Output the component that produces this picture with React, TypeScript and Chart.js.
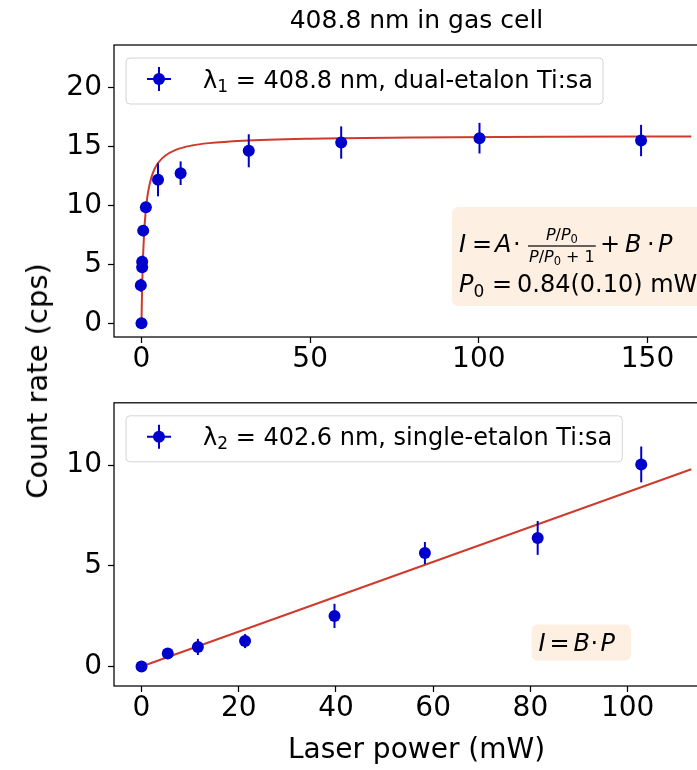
import React, { useEffect, useRef } from 'react';
import { Chart, registerables } from 'chart.js';

Chart.register(...registerables);

const FONT = "'DejaVu Sans', 'Liberation Sans', sans-serif";
const BLUE = '#0000cc';
const RED = '#cf3a2c';
const PEACH = '#fdefe2';

// ---- Top panel: 408.8 nm, dual-etalon Ti:sa ----
const power1 = [0, -0.2, 0.2, 0.2, 0.5, 1.3, 4.9, 11.6, 31.8, 59.2, 100.2, 148.1];
const rate1 = [0, 3.23, 4.75, 5.23, 7.86, 9.85, 12.17, 12.73, 14.63, 15.33, 15.7, 15.5];
const err1 = [0.1, 0.55, 0.45, 0.5, 0.45, 0.45, 1.4, 1.0, 1.4, 1.37, 1.3, 1.33];
const fitPower1 = [0, 0.1, 0.2, 0.35, 0.5, 0.75, 1, 1.5, 2, 3, 4, 5, 7, 10, 15, 20, 30, 50, 80, 120, 163];
const fitRate1 = [0, 1.69, 3.06, 4.68, 5.94, 7.51, 8.65, 10.2, 11.21, 12.44, 13.16, 13.63, 14.21, 14.69, 15.08, 15.28, 15.49, 15.66, 15.75, 15.81, 15.84];
const xTicks1 = [0, 50, 100, 150];
const yTicks1 = [0, 5, 10, 15, 20];

// ---- Bottom panel: 402.6 nm, single-etalon Ti:sa ----
const power2 = [0, 5.4, 11.6, 21.3, 39.7, 58.3, 81.5, 102.8];
const rate2 = [0, 0.64, 0.97, 1.26, 2.51, 5.63, 6.38, 10.03];
const err2 = [0.05, 0.15, 0.4, 0.35, 0.6, 0.55, 0.84, 0.89];
const fitPower2 = [0, 113.1];
const fitRate2 = [0, 9.79];
const xTicks2 = [0, 20, 40, 60, 80, 100];
const yTicks2 = [0, 5, 10];

const TITLE = '408.8 nm in gas cell';
const X_LABEL = 'Laser power (mW)';
const Y_LABEL = 'Count rate (cps)';
const LEGEND1 = { sub: '1', rest: ' = 408.8 nm, dual-etalon Ti:sa' };
const LEGEND2 = { sub: '2', rest: ' = 402.6 nm, single-etalon Ti:sa' };

const TICK_SIZE = 28;

const rm = (s: number) => `${s}px ${FONT}`;
const it = (s: number) => `italic ${s}px ${FONT}`;

function xAxis(min: number, max: number, ticks: number[], height: number, title?: any) {
  return {
    type: 'linear',
    min,
    max,
    afterBuildTicks: (s: any) => {
      s.ticks = ticks.map((v) => ({ value: v }));
    },
    afterFit: (s: any) => {
      s.height = height;
    },
    grid: { display: true, drawOnChartArea: false, drawTicks: true, tickLength: 6, tickColor: '#000', tickWidth: 1.25 },
    border: { display: false },
    ticks: { font: { family: FONT, size: TICK_SIZE }, color: '#000', padding: 0, maxRotation: 0, autoSkip: false, callback: (v: any) => String(v) },
    title: title || { display: false },
  };
}

function yAxis(min: number, max: number, ticks: number[]) {
  return {
    type: 'linear',
    min,
    max,
    afterBuildTicks: (s: any) => {
      s.ticks = ticks.map((v) => ({ value: v }));
    },
    afterFit: (s: any) => {
      s.width = 114;
    },
    grid: { display: true, drawOnChartArea: false, drawTicks: true, tickLength: 6, tickColor: '#000', tickWidth: 1.25 },
    border: { display: false },
    ticks: { font: { family: FONT, size: TICK_SIZE }, color: '#000', padding: 6, autoSkip: false, callback: (v: any) => String(v) },
  };
}

function drawLegend(chart: any, leg: { sub: string; rest: string }) {
  const { ctx, chartArea: ca } = chart;
  const left = ca.left + 12;
  const top = ca.top + 13;
  const h = 46;
  ctx.save();
  ctx.font = rm(24);
  const wL = ctx.measureText('λ').width;
  const wR = ctx.measureText(leg.rest).width;
  ctx.font = rm(17);
  const wS = ctx.measureText(leg.sub).width;
  const w = 77 + wL + wS + wR + 10;
  ctx.beginPath();
  ctx.roundRect(left, top, w, h, 4);
  ctx.fillStyle = 'rgba(255,255,255,0.8)';
  ctx.fill();
  ctx.strokeStyle = '#d4d4d4';
  ctx.lineWidth = 1;
  ctx.stroke();
  // handle
  const cx = left + 33;
  const cy = top + 21;
  ctx.strokeStyle = BLUE;
  ctx.lineWidth = 2;
  ctx.beginPath();
  ctx.moveTo(cx - 12, cy);
  ctx.lineTo(cx + 12, cy);
  ctx.moveTo(cx, cy - 12);
  ctx.lineTo(cx, cy + 12);
  ctx.stroke();
  ctx.beginPath();
  ctx.arc(cx, cy, 6, 0, Math.PI * 2);
  ctx.fillStyle = BLUE;
  ctx.fill();
  // text
  ctx.fillStyle = '#000';
  ctx.textAlign = 'left';
  ctx.textBaseline = 'alphabetic';
  const base = cy + 8.5;
  let x = left + 77;
  ctx.font = rm(24);
  ctx.fillText('λ', x, base);
  x += wL;
  ctx.font = rm(17);
  ctx.fillText(leg.sub, x, base + 4);
  x += wS;
  ctx.font = rm(24);
  ctx.fillText(leg.rest, x, base);
  ctx.restore();
}

type Run = { t: string; f: string; dy?: number };
function runWidth(ctx: any, runs: Run[]) {
  let w = 0;
  for (const r of runs) {
    ctx.font = r.f;
    w += ctx.measureText(r.t).width;
  }
  return w;
}
function drawRuns(ctx: any, runs: Run[], x: number, y: number) {
  for (const r of runs) {
    ctx.font = r.f;
    ctx.fillText(r.t, x, y + (r.dy || 0));
    x += ctx.measureText(r.t).width;
  }
  return x;
}

function drawEq1(chart: any) {
  const { ctx, chartArea: ca } = chart;
  const L = ca.left + 338;
  const T = ca.top + 162;
  ctx.save();
  ctx.beginPath();
  ctx.roundRect(L, T, 330, 99, 6);
  ctx.fillStyle = PEACH;
  ctx.fill();
  ctx.fillStyle = '#000';
  ctx.textAlign = 'left';
  ctx.textBaseline = 'alphabetic';
  const S = 24;
  const b1 = T + 45;
  drawRuns(ctx, [{ t: 'I', f: it(S) }], L + 7, b1);
  drawRuns(ctx, [{ t: '=', f: rm(S) }], L + 20, b1);
  drawRuns(ctx, [{ t: 'A', f: it(S) }], L + 43, b1);
  drawRuns(ctx, [{ t: '⋅', f: rm(S) }], L + 61, b1);
  // fraction
  const fs = 16;
  const num: Run[] = [
    { t: 'P', f: it(fs) },
    { t: '/', f: rm(fs) },
    { t: 'P', f: it(fs) },
    { t: '0', f: rm(11.5), dy: 3 },
  ];
  const den: Run[] = [...num, { t: ' + 1', f: rm(fs) }];
  const fx = L + 76;
  const wn = runWidth(ctx, num);
  const wd = runWidth(ctx, den);
  const fw = Math.max(wn, wd) + 2;
  const barY = b1 - 6;
  ctx.fillRect(fx, barY - 0.6, fw, 1.2);
  drawRuns(ctx, num, fx + (fw - wn) / 2, barY - 6);
  drawRuns(ctx, den, fx + (fw - wd) / 2, barY + 16);
  drawRuns(ctx, [{ t: '+', f: rm(S) }], L + 148, b1);
  drawRuns(ctx, [{ t: 'B', f: it(S) }], L + 173, b1);
  drawRuns(ctx, [{ t: '⋅', f: rm(S) }], L + 195, b1);
  drawRuns(ctx, [{ t: 'P', f: it(S) }], L + 206, b1);
  // line 2
  const b2 = T + 85;
  drawRuns(ctx, [{ t: 'P', f: it(S) }, { t: '0', f: rm(17), dy: 5 }], L + 7, b2);
  drawRuns(ctx, [{ t: '=', f: rm(S) }], L + 40, b2);
  drawRuns(ctx, [{ t: '0.84(0.10) mW', f: rm(24) }], L + 65, b2);
  ctx.restore();
}

function drawEq2(chart: any) {
  const { ctx, chartArea: ca } = chart;
  const L = ca.left + 417.6;
  const T = ca.top + 221.7;
  ctx.save();
  ctx.beginPath();
  ctx.roundRect(L, T, 99.4, 36.3, 6);
  ctx.fillStyle = PEACH;
  ctx.fill();
  ctx.fillStyle = '#000';
  ctx.textAlign = 'left';
  ctx.textBaseline = 'alphabetic';
  const S = 24;
  const b = T + 26;
  drawRuns(ctx, [{ t: 'I', f: it(S) }], L + 7, b);
  drawRuns(ctx, [{ t: '=', f: rm(S) }], L + 18, b);
  drawRuns(ctx, [{ t: 'B', f: it(S) }], L + 42, b);
  drawRuns(ctx, [{ t: '⋅', f: rm(S) }], L + 59, b);
  drawRuns(ctx, [{ t: 'P', f: it(S) }], L + 69, b);
  ctx.restore();
}

function panelPlugin(id: string, errors: number[], legend: { sub: string; rest: string }, eq: (c: any) => void) {
  return {
    id,
    beforeDatasetDraw(chart: any, args: any) {
      if (args.index !== 1) return;
      const { ctx } = chart;
      const xs = chart.scales.x;
      const ys = chart.scales.y;
      const data = chart.data.datasets[1].data;
      ctx.save();
      ctx.strokeStyle = BLUE;
      ctx.lineWidth = 2;
      data.forEach((p: any, i: number) => {
        const e = errors[i];
        const px = xs.getPixelForValue(p.x);
        ctx.beginPath();
        ctx.moveTo(px, ys.getPixelForValue(p.y - e));
        ctx.lineTo(px, ys.getPixelForValue(p.y + e));
        ctx.stroke();
      });
      ctx.restore();
    },
    afterDatasetsDraw(chart: any) {
      const { ctx, chartArea: ca } = chart;
      ctx.save();
      ctx.strokeStyle = '#000';
      ctx.lineWidth = 1.25;
      ctx.strokeRect(ca.left, ca.top, ca.right - ca.left, ca.bottom - ca.top);
      ctx.restore();
    },
    afterDraw(chart: any) {
      eq(chart);
      drawLegend(chart, legend);
    },
  };
}

function buildConfig(opts: {
  power: number[];
  rate: number[];
  fitP: number[];
  fitR: number[];
  x: any;
  y: any;
  padTop: number;
  title: any;
  plugin: any;
}): any {
  return {
    type: 'scatter',
    data: {
      datasets: [
        {
          type: 'line',
          data: opts.fitP.map((x, i) => ({ x, y: opts.fitR[i] })),
          borderColor: RED,
          borderWidth: 2,
          pointRadius: 0,
          fill: false,
          cubicInterpolationMode: 'monotone',
          order: 2,
        },
        {
          type: 'scatter',
          data: opts.power.map((x, i) => ({ x, y: opts.rate[i] })),
          backgroundColor: BLUE,
          borderColor: BLUE,
          borderWidth: 0,
          pointRadius: 6,
          pointHoverRadius: 6,
          order: 1,
        },
      ],
    },
    options: {
      responsive: false,
      animation: false,
      devicePixelRatio: 1,
      events: [],
      layout: { padding: { left: 0, right: 21, top: opts.padTop, bottom: 0 } },
      plugins: {
        legend: { display: false },
        tooltip: { enabled: false },
        title: opts.title,
      },
      scales: { x: opts.x, y: opts.y },
    },
    plugins: [opts.plugin],
  };
}

export default function App() {
  const topRef = useRef<HTMLCanvasElement>(null);
  const botRef = useRef<HTMLCanvasElement>(null);

  useEffect(() => {
    const c1 = new Chart(
      topRef.current as HTMLCanvasElement,
      buildConfig({
        power: power1,
        rate: rate1,
        fitP: fitPower1,
        fitR: fitRate1,
        x: xAxis(-8.15, 171.2, xTicks1, 42),
        y: yAxis(-1.16, 23.6, yTicks1),
        padTop: 0,
        title: {
          display: true,
          text: TITLE,
          color: '#000',
          fullSize: false,
          font: { family: FONT, size: 25, weight: 'normal' },
          padding: { top: 6, bottom: 9 },
        },
        plugin: panelPlugin('panelTop', err1, LEGEND1, drawEq1),
      })
    );
    const c2 = new Chart(
      botRef.current as HTMLCanvasElement,
      buildConfig({
        power: power2,
        rate: rate2,
        fitP: fitPower2,
        fitR: fitRate2,
        x: xAxis(-5.66, 118.8, xTicks2, 84, {
          display: true,
          text: X_LABEL,
          color: '#000',
          font: { family: FONT, size: 28 },
          padding: { top: 0, bottom: 2 },
        }),
        y: yAxis(-0.97, 13.09, yTicks2),
        padTop: 15,
        title: { display: false },
        plugin: panelPlugin('panelBottom', err2, LEGEND2, drawEq2),
      })
    );
    return () => {
      c1.destroy();
      c2.destroy();
    };
  }, []);

  return (
    <div
      style={{
        position: 'absolute',
        left: 0,
        top: 0,
        width: 697,
        height: 770,
        overflow: 'hidden',
        background: '#fff',
      }}
    >
      <canvas
        ref={topRef}
        width={740}
        height={379}
        style={{ position: 'absolute', left: 0, top: 0, width: 740, height: 379 }}
      />
      <canvas
        ref={botRef}
        width={740}
        height={390}
        style={{ position: 'absolute', left: 0, top: 380, width: 740, height: 390 }}
      />
      <div
        style={{
          position: 'absolute',
          left: 37,
          top: 381,
          transform: 'translate(-50%, -50%) rotate(-90deg)',
          fontFamily: FONT,
          fontSize: 29,
          whiteSpace: 'nowrap',
          color: '#000',
          lineHeight: 'normal',
        }}
      >
        {Y_LABEL}
      </div>
    </div>
  );
}
